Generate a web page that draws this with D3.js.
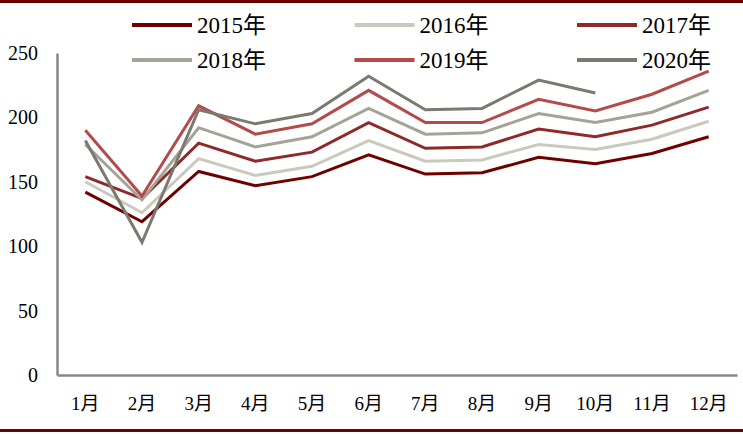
<!DOCTYPE html>
<html><head><meta charset="utf-8">
<script src="https://cdn.jsdelivr.net/npm/d3@7"></script>
<style>body{margin:0;background:#fff;} svg{display:block;}</style>
</head><body>
<svg id="c" width="743" height="434"></svg>
<script>
const months = ["1月","2月","3月","4月","5月","6月","7月","8月","9月","10月","11月","12月"];
const yTicks = [0,50,100,150,200,250];
const seriesNames = ["2015年","2016年","2017年","2018年","2019年","2020年"];
const seriesColors = ["#700000","#c9c9be","#8e2a2a","#a3a398","#b34b4b","#7a7a70"];
const s2015 = [142,119,158,147,154,171,156,157,169,164,172,185];
const s2016 = [150,126,168,155,162,182,166,167,179,175,183,197];
const s2017 = [154,137,180,166,173,196,176,177,191,185,194,208];
const s2018 = [179,136,192,177,185,207,187,188,203,196,204,221];
const s2019 = [190,139,209,187,195,221,196,196,214,205,218,236];
const s2020 = [182,103,206,195,203,232,206,207,229,219];
const allSeries = [s2015,s2016,s2017,s2018,s2019,s2020];

const svg = d3.select("#c");
const serif = "'Times New Roman','Liberation Serif','Noto Sans CJK SC',serif";

// frame bars
svg.append("rect").attr("x",0).attr("y",0).attr("width",743).attr("height",3).attr("fill","#6b0000");
svg.append("rect").attr("x",0).attr("y",429).attr("width",743).attr("height",3).attr("fill","#6b0000");

const x = d3.scaleBand().domain(months).range([57,737]);
const y = d3.scaleLinear().domain([0,250]).range([375,53]);

// y axis
const yAxis = svg.append("g").attr("transform","translate(57,0)")
  .call(d3.axisLeft(y).tickValues(yTicks).tickSize(0).tickPadding(19));
yAxis.select(".domain").attr("stroke","#888").attr("stroke-width",2.5);
yAxis.selectAll("text").attr("font-family",serif).attr("font-size",20).attr("fill","#000");

// x axis
const xAxis = svg.append("g").attr("transform","translate(0,375)")
  .call(d3.axisBottom(x).tickSize(0).tickPadding(22));
xAxis.select(".domain").attr("stroke","#888").attr("stroke-width",2.5);
xAxis.selectAll("text").attr("font-family",serif).attr("font-size",19).attr("fill","#000");

// lines
const line = d3.line().x((d,i)=>x(months[i])+x.bandwidth()/2).y(d=>y(d));
allSeries.forEach((s,k)=>{
  svg.append("path").datum(s).attr("d",line)
    .attr("fill","none").attr("stroke",seriesColors[k]).attr("stroke-width",3)
    .attr("stroke-linejoin","miter");
});

// legend
const lg = svg.append("g");
seriesNames.forEach((n,k)=>{
  const col = k%3, row = Math.floor(k/3);
  const lx = 132 + col*222.5, ly = 25 + row*35;
  lg.append("line").attr("x1",lx).attr("x2",lx+60).attr("y1",ly).attr("y2",ly)
    .attr("stroke",seriesColors[k]).attr("stroke-width",4);
  lg.append("text").attr("x",lx+65).attr("y",ly).attr("dy","0.35em")
    .attr("font-family",serif).attr("font-size",23).attr("fill","#000").text(n);
});
</script>
</body></html>
